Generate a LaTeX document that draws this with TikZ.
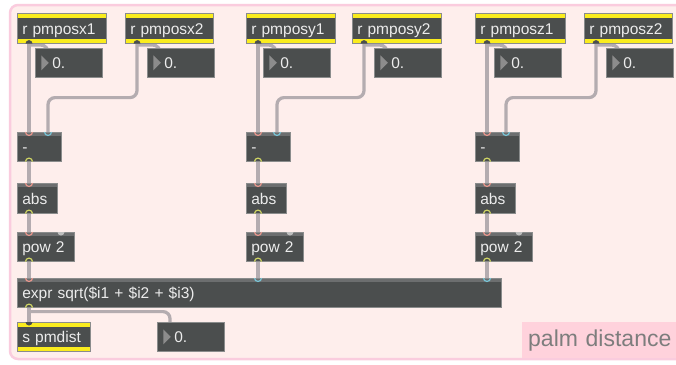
\documentclass[tikz,border=0pt]{standalone}
\usepackage{fontspec}
\setmainfont{Liberation Sans}
\usetikzlibrary{positioning}

\definecolor{patchbg}{RGB}{254,238,236}
\definecolor{patchline}{RGB}{250,204,222}
\definecolor{objfill}{RGB}{75,78,78}
\definecolor{objedge}{RGB}{138,140,140}
\definecolor{objband}{RGB}{108,110,111}
\definecolor{objtext}{RGB}{236,236,236}
\definecolor{sendyellow}{RGB}{250,236,30}
\definecolor{cordgray}{RGB}{180,172,176}
\definecolor{inred}{RGB}{232,150,140}
\definecolor{inblue}{RGB}{120,196,214}
\definecolor{outgreen}{RGB}{206,212,100}
\definecolor{tripgray}{RGB}{140,140,140}
\definecolor{notefill}{RGB}{255,210,220}
\definecolor{notetext}{RGB}{125,125,125}

\pgfdeclarelayer{patch}
\pgfdeclarelayer{cords}
\pgfsetlayers{patch,cords,main}

\tikzset{
  obj/.style={draw=objedge, line width=0.6pt, fill=objfill, text=objtext, anchor=north west,
    inner xsep=5pt, inner ysep=0pt, minimum height=29pt, text height=13pt, text depth=1pt,
    align=left, font=\fontsize{15.5}{16}\selectfont, text width=#1,
    path picture={\fill[objband] (path picture bounding box.north west)
      rectangle ([yshift=-4pt]path picture bounding box.north east);}},
  recv/.style={obj=#1, minimum height=30pt,
    path picture={\fill[sendyellow] (path picture bounding box.north west)
      rectangle ([yshift=-4.5pt]path picture bounding box.north east);
      \fill[sendyellow] (path picture bounding box.south west)
      rectangle ([yshift=4.5pt]path picture bounding box.south east);}},
  numbox/.style={obj=57pt, execute at begin node=\hspace*{12pt},
    path picture={\fill[tripgray] ([xshift=6pt,yshift=7.5pt]path picture bounding box.west)
      -- ([xshift=6pt,yshift=-7.5pt]path picture bounding box.west)
      -- ([xshift=13.5pt]path picture bounding box.west) -- cycle;}},
  note/.style={fill=notefill, text=notetext, anchor=north west, inner xsep=6pt,
    minimum height=36pt, text height=16pt, text depth=4pt, align=left,
    font=\fontsize{23}{24}\selectfont},
  cord/.style={draw=cordgray, line width=3.2pt, rounded corners=7pt},
  port/.style={line width=1.2pt}
}

% inlets, outlets: #1 box, #2 offset from left edge, #3 colour
\newcommand\inlet[3]{\draw[port, #3] ([xshift=#2pt]#1.north west) ++(-3.5,0) arc (180:0:3.5);}
\newcommand\outlet[3]{\draw[port, #3] ([xshift=#2pt]#1.south west) ++(-3.5,0) arc (180:360:3.5);}
\newcommand\darkout[2]{\fill[objfill] ([xshift=#2pt]#1.south west) ++(-3.5,0) arc (180:360:3.5) -- cycle;}
\newcommand\darkin[2]{\fill[objfill] ([xshift=#2pt]#1.north west) ++(-3.5,0) arc (180:0:3.5) -- cycle;}

\begin{document}
\begin{tikzpicture}[x=1pt, y=-1pt]
\useasboundingbox (0,0) rectangle (676,364);

% receivers and their number boxes
\node (rx1) [recv=79pt] at (17,13) {r pmposx1};
\node (rx2) [recv=78pt] at (125,13) {r pmposx2};
\node (ry1) [recv=79pt] at (246,13) {r pmposy1};
\node (ry2) [recv=79pt] at (352,13) {r pmposy2};
\node (rz1) [recv=80pt] at (475,13) {r pmposz1};
\node (rz2) [recv=78pt] at (584,13) {r pmposz2};

\node (nx1) [numbox] at (35,48) {0.};
\node (nx2) [numbox] at (147,48) {0.};
\node (ny1) [numbox] at (263,48) {0.};
\node (ny2) [numbox] at (374,48) {0.};
\node (nz1) [numbox] at (494,48) {0.};
\node (nz2) [numbox] at (606,48) {0.};

% difference, abs, square per axis
\node (mx) [obj=34pt] at (17,132) {-};
\node (my) [obj=34pt] at (246,132) {-};
\node (mz) [obj=34pt] at (475,132) {-};

\node (ax) [obj=30pt, minimum height=30pt] at (17,183) {abs};
\node (ay) [obj=30pt, minimum height=30pt] at (246,183) {abs};
\node (az) [obj=30pt, minimum height=30pt] at (475,183) {abs};

\node (px) [obj=47pt] at (17,232) {pow 2};
\node (py) [obj=47pt] at (246,232) {pow 2};
\node (pz) [obj=47pt] at (475,232) {pow 2};

\node (ex) [obj=474pt] at (17,278) {expr sqrt(\$i1 + \$i2 + \$i3)};

\node (sd) [recv=63pt, minimum height=29pt] at (17,322) {s pmdist};
\node (nd) [numbox] at (157,322) {0.};

\node (cmt) [note, text width=150pt] at (522,322) {palm distance};

\begin{pgfonlayer}{patch}
  \fill[white] (0,0) rectangle (676,364);
  \draw[patchline, line width=2.5pt, fill=patchbg, rounded corners=8pt] (10,5) rectangle (700,359);
\end{pgfonlayer}

\begin{pgfonlayer}{cords}
  \foreach \a in {x,y,z} {
    \path[cord] ([xshift=12pt]r\a1.south west) -- ([xshift=12pt]m\a.north west);
    \path[cord] ([xshift=12pt,yshift=-1.5pt]r\a1.south west) -| ([xshift=13pt]n\a1.north west);
    \path[cord] ([xshift=12pt,yshift=-1.5pt]r\a2.south west) -| ([xshift=13pt]n\a2.north west);
    \path[cord] ([xshift=12pt]r\a2.south west) -- ++(0,54) -| ([xshift=31pt]m\a.north west);
    \path[cord] ([xshift=12pt]m\a.south west) -- ([xshift=12pt]a\a.north west);
    \path[cord] ([xshift=12pt]a\a.south west) -- ([xshift=12pt]p\a.north west);
  }
  \path[cord] ([xshift=12pt]px.south west) -- ([xshift=12pt]ex.north west);
  \path[cord] ([xshift=12pt]py.south west) -- ([xshift=241pt]ex.north west);
  \path[cord] ([xshift=12pt]pz.south west) -- ([xshift=470pt]ex.north west);
  \path[cord] ([xshift=12pt]ex.south west) -- ([xshift=12pt]sd.north west);
  \path[cord] ([xshift=12pt,yshift=-4pt]ex.south west) -| ([xshift=13pt]nd.north west);
\end{pgfonlayer}

% ports
\foreach \a in {x,y,z} {
  \darkout{r\a1}{12}
  \darkout{r\a2}{12}
  \inlet{m\a}{12}{inred}
  \inlet{m\a}{31}{inblue}
  \outlet{m\a}{12}{outgreen}
  \inlet{a\a}{12}{inred}
  \outlet{a\a}{12}{outgreen}
  \inlet{p\a}{12}{inred}
  \fill[black!25] ([xshift=40.5pt]p\a.north west) arc (180:0:3.5) -- cycle;
  \outlet{p\a}{12}{outgreen}
}
\inlet{ex}{12}{inred}
\inlet{ex}{241}{inblue}
\inlet{ex}{470}{inblue}
\outlet{ex}{12}{outgreen}
\darkin{sd}{12}
\end{tikzpicture}
\end{document}
